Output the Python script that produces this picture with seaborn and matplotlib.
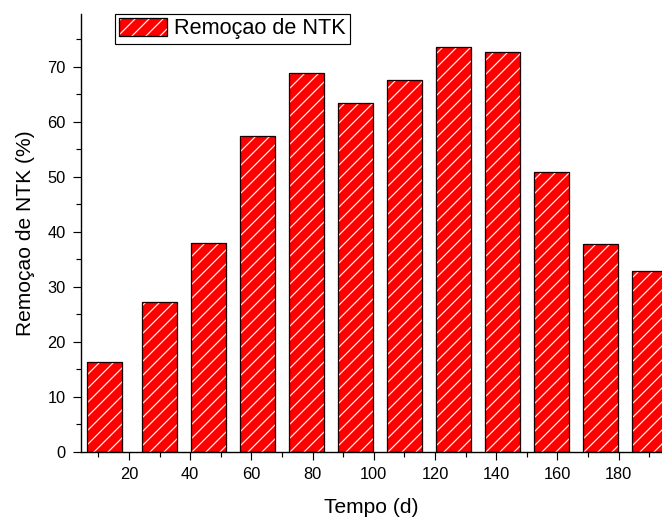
import matplotlib
matplotlib.use("Agg")
import matplotlib.pyplot as plt
from matplotlib.patches import Patch, Rectangle
from matplotlib.legend_handler import HandlerTuple
from matplotlib.ticker import MultipleLocator
import seaborn as sns
import pandas as pd

# NTK removal over the operating period
tempo = [12, 30, 46, 62, 78, 94, 110, 126, 142, 158, 174, 190]
remocao = [16.4, 27.3, 37.9, 57.5, 68.8, 63.4, 67.6, 73.6, 72.6, 50.9, 37.7, 32.9]
x_ticks = [20, 40, 60, 80, 100, 120, 140, 160, 180]
y_ticks = [0, 10, 20, 30, 40, 50, 60, 70]
serie = "Remoçao de NTK"

df = pd.DataFrame({"Tempo (d)": tempo, "Remocao": remocao})

sns.set_style("ticks")
plt.rcParams["font.family"] = ["Liberation Sans", "DejaVu Sans"]
plt.rcParams["hatch.linewidth"] = 1.0
plt.rcParams["text.color"] = "black"
plt.rcParams["axes.labelcolor"] = "black"
plt.rcParams["xtick.color"] = "black"
plt.rcParams["ytick.color"] = "black"

DPI = 84
fig = plt.figure(figsize=(662 / DPI, 518 / DPI), dpi=DPI)
ax = fig.add_axes([81 / 662, 1 - 451.7 / 518, (662 - 81) / 662, (451.7 - 14) / 518])

# red bars with white diagonal hatching
sns.barplot(data=df, x="Tempo (d)", y="Remocao", native_scale=True, width=0.71,
            color="#ff0000", saturation=1, edgecolor="white", linewidth=0,
            hatch="//", ax=ax, zorder=2)

# black outline on top of each bar
for bar in list(ax.patches):
    ax.add_patch(Rectangle(bar.get_xy(), bar.get_width(), bar.get_height(),
                           fill=False, edgecolor="#1a0000", linewidth=1.1, zorder=3))

ax.set_xlim(4.3, 194.2)
ax.set_ylim(0, 79.6)
ax.set_xticks(x_ticks)
ax.set_yticks(y_ticks)
ax.xaxis.set_minor_locator(MultipleLocator(10))
ax.yaxis.set_minor_locator(MultipleLocator(5))

ax.tick_params(which="major", length=7, width=1.0, labelsize=14, pad=6,
               color="black", labelcolor="black")
ax.tick_params(which="minor", length=4, width=1.0, color="black")
ax.tick_params(axis="x", which="both", bottom=True)
ax.tick_params(axis="y", which="both", left=True)

for side in ("top", "right"):
    ax.spines[side].set_visible(False)
for side in ("left", "bottom"):
    ax.spines[side].set_linewidth(1.2)
    ax.spines[side].set_color("black")

ax.set_xlabel("Tempo (d)", fontsize=18, labelpad=14, color="black")
ax.set_ylabel("Remoçao de NTK (%)", fontsize=18, labelpad=11, color="black")

handle = (Patch(facecolor="#ff0000", edgecolor="white", linewidth=0, hatch="//"),
          Patch(fill=False, edgecolor="black", linewidth=1.1))
leg = fig.legend([handle], [serie], handler_map={tuple: HandlerTuple(ndivide=1, pad=0)},
                 loc="upper left", bbox_to_anchor=(115 / 662, 1 - 14 / 518),
                 borderaxespad=0, fontsize=18.5, frameon=True, fancybox=False,
                 framealpha=1, edgecolor="black", borderpad=0.2,
                 handlelength=2.2, handleheight=0.85, handletextpad=0.35)
leg.get_frame().set_linewidth(1.0)

fig.savefig("out.png", dpi=DPI)
